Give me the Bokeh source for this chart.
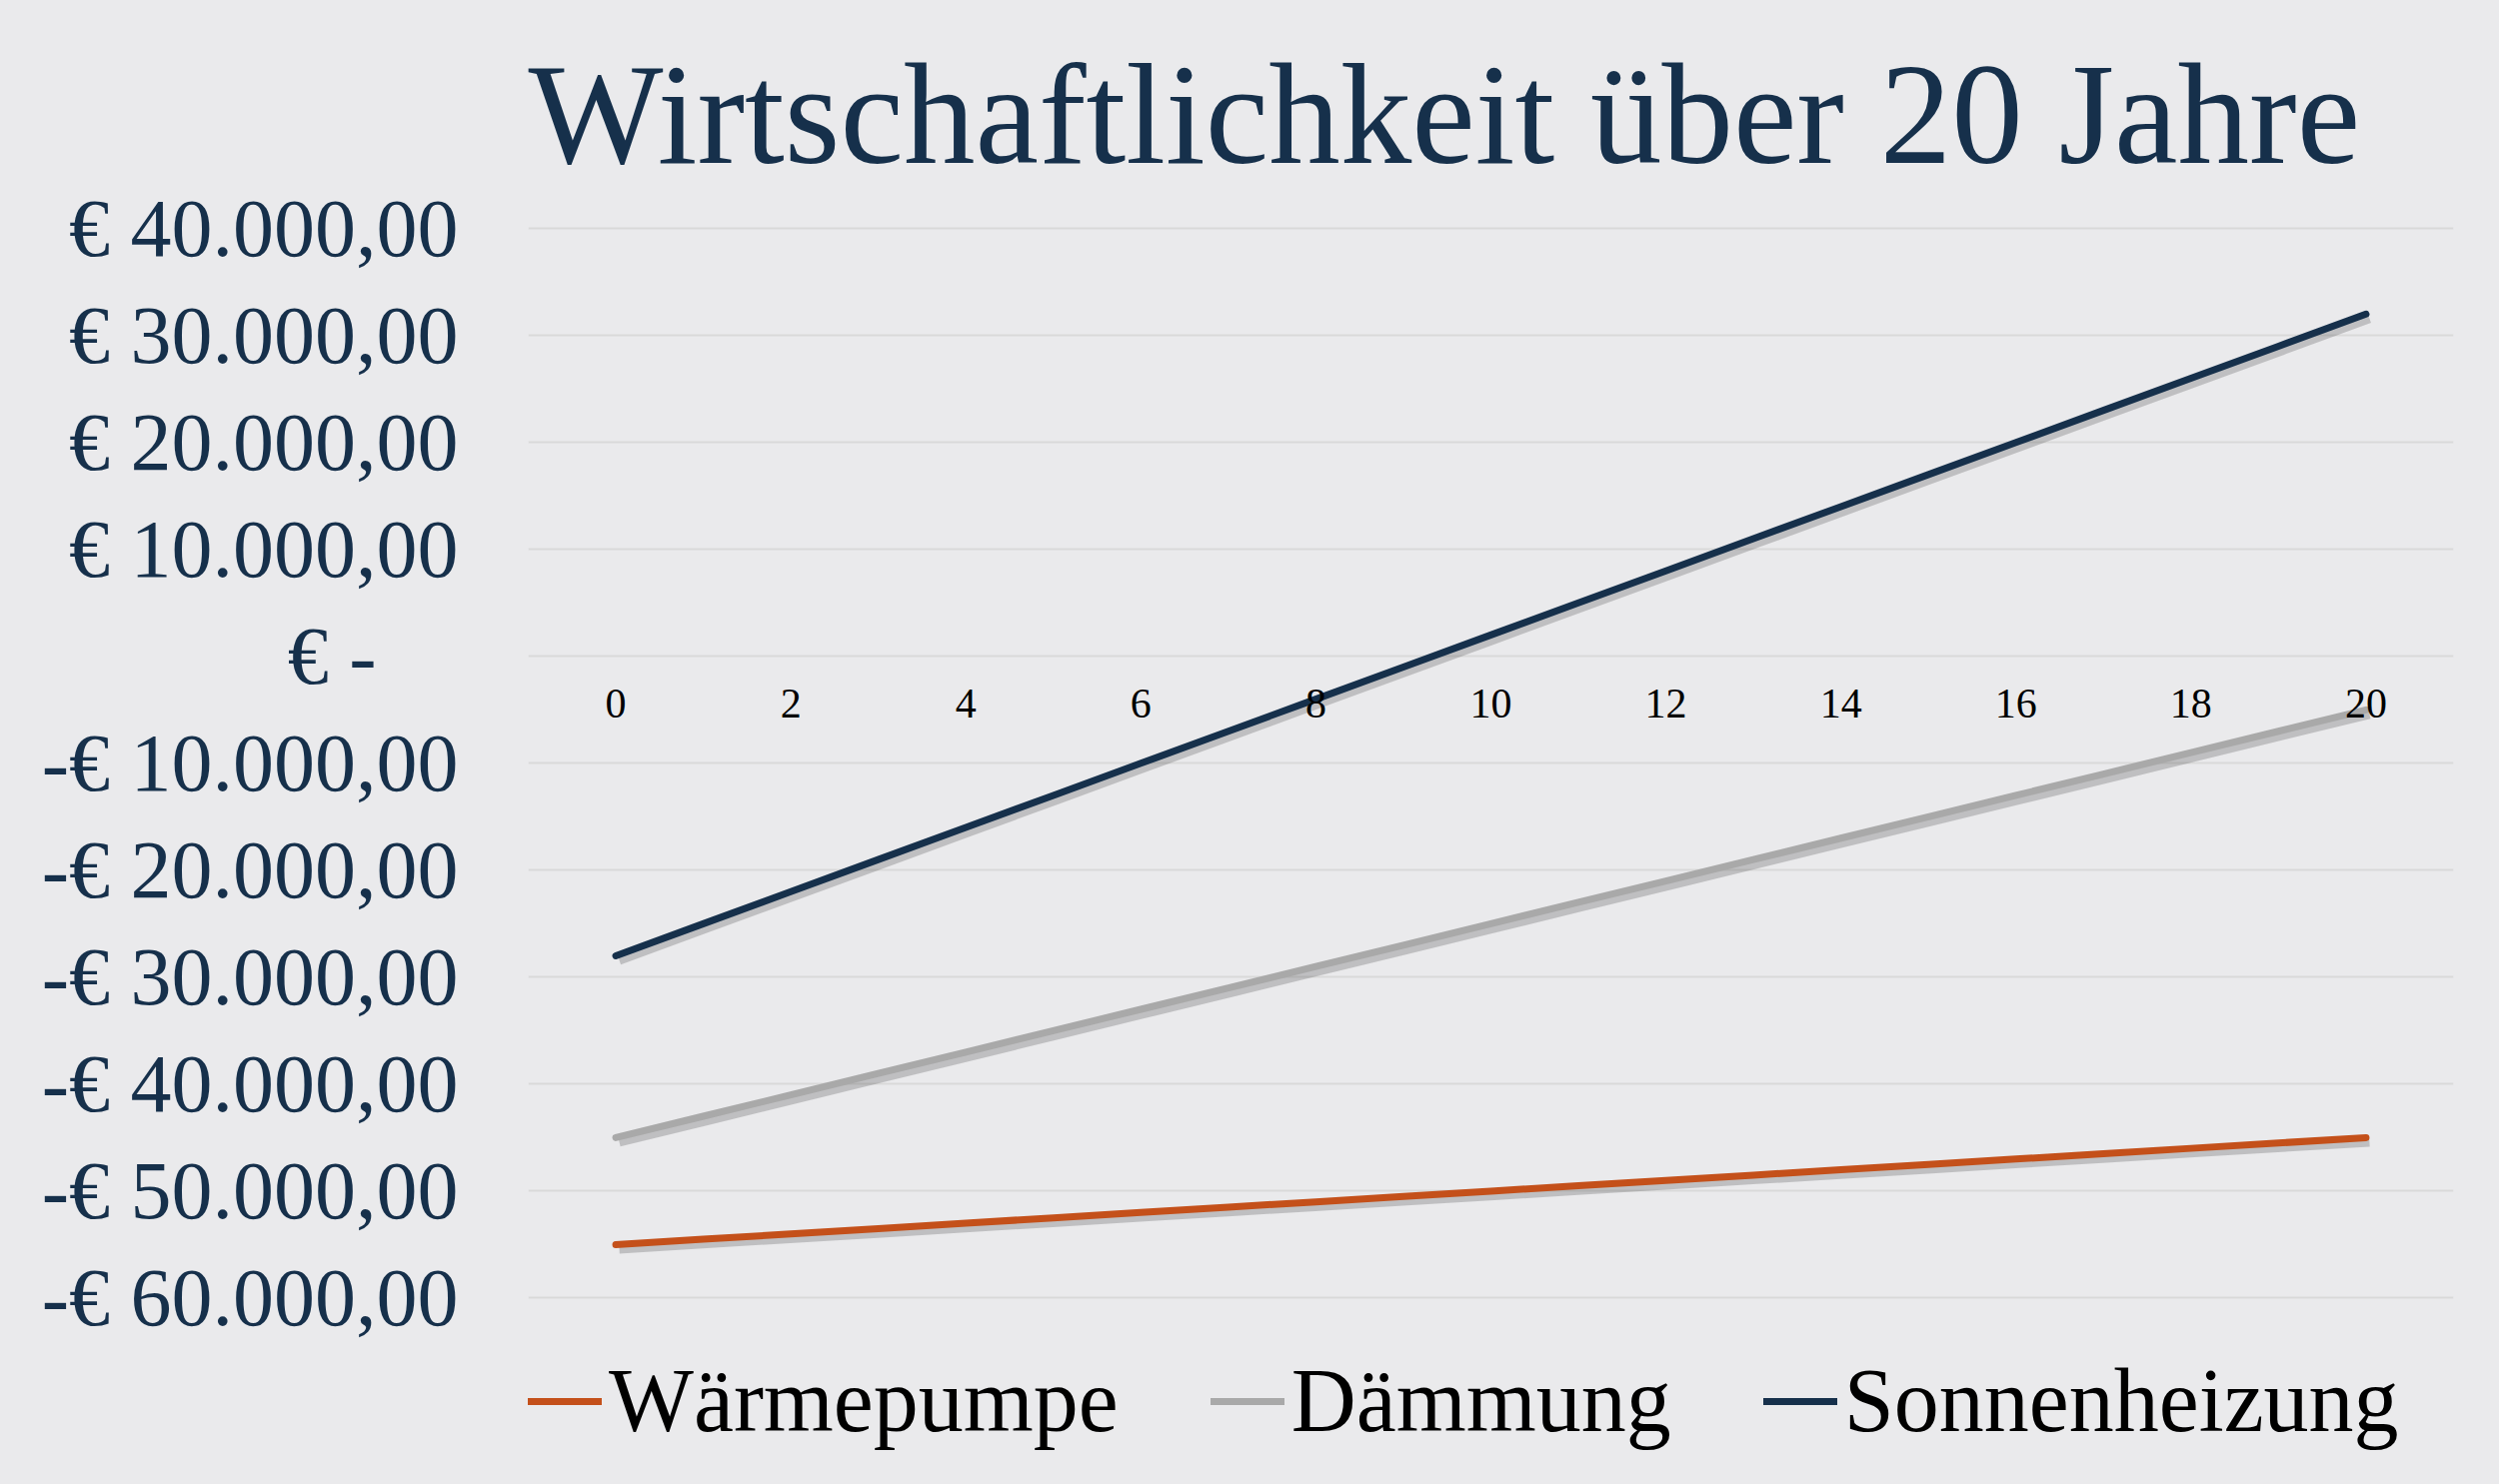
from bokeh.plotting import figure
from bokeh.models import FixedTicker, Legend, LegendItem
from bokeh.embed import file_html
from bokeh.resources import INLINE

years = list(range(0, 21))
waermepumpe = [-55000, -54500, -54000, -53500, -53000, -52500, -52000, -51500, -51000, -50500,
               -50000, -49500, -49000, -48500, -48000, -47500, -47000, -46500, -46000, -45500, -45000]
daemmung = [-45000, -43000, -41000, -39000, -37000, -35000, -33000, -31000, -29000, -27000,
            -25000, -23000, -21000, -19000, -17000, -15000, -13000, -11000, -9000, -7000, -5000]
sonnenheizung = [-28000, -25000, -22000, -19000, -16000, -13000, -10000, -7000, -4000, -1000,
                 2000, 5000, 8000, 11000, 14000, 17000, 20000, 23000, 26000, 29000, 32000]
series_names = ["Wärmepumpe", "Dämmung", "Sonnenheizung"]
series_colors = ["#C4501A", "#A9A9A9", "#16304B"]

y_ticks = [40000, 30000, 20000, 10000, 0, -10000, -20000, -30000, -40000, -50000, -60000]
y_labels = ["€ 40.000,00", "€ 30.000,00", "€ 20.000,00", "€ 10.000,00", "€ -\u00a0\u00a0\u00a0\u00a0",
            "-€ 10.000,00", "-€ 20.000,00", "-€ 30.000,00", "-€ 40.000,00", "-€ 50.000,00", "-€ 60.000,00"]
x_ticks = [0, 2, 4, 6, 8, 10, 12, 14, 16, 18, 20]

BG = "#EAEAEC"
SERIF = "Liberation Serif"

# frame extends below the -60k line to hold the legend (no grid there)
p = figure(width=2484, height=1469, output_backend="svg", toolbar_location=None,
           x_range=(-1, 21), y_range=(-75000, 40300),
           min_border_left=528, min_border_right=30, min_border_top=225, min_border_bottom=10,
           background_fill_color=BG, border_fill_color=BG, outline_line_color=None)

p.title.text = "Wirtschaftlichkeit über 20 Jahre"
p.title.text_font = SERIF
p.title.text_font_size = "143px"
p.title.text_font_style = "normal"
p.title.text_color = "#16304B"
p.title.align = "left"
p.title.vertical_align = "top"
p.title.standoff = 60

# grid
p.xgrid.visible = False
p.ygrid.ticker = FixedTicker(ticks=y_ticks)
p.ygrid.grid_line_color = "#D9D9D9"
p.ygrid.grid_line_width = 2

# y axis
p.yaxis.ticker = FixedTicker(ticks=y_ticks)
p.yaxis.major_label_overrides = {t: l for t, l in zip(y_ticks, y_labels)}
p.yaxis.axis_line_color = None
p.yaxis.major_tick_line_color = None
p.yaxis.minor_tick_line_color = None
p.yaxis.major_label_text_font = SERIF
p.yaxis.major_label_text_font_size = "82px"
p.yaxis.major_label_text_color = "#16304B"
p.yaxis.major_label_standoff = 64

# x axis at zero
p.xaxis.fixed_location = 0
p.xaxis.ticker = FixedTicker(ticks=x_ticks)
p.xaxis.axis_line_color = None
p.xaxis.major_tick_line_color = None
p.xaxis.minor_tick_line_color = None
p.xaxis.major_label_text_font = SERIF
p.xaxis.major_label_text_font_size = "42px"
p.xaxis.major_label_text_color = "#000000"
p.xaxis.major_label_standoff = 27

# shadows and lines
dx = 0.04
dy = -420
items = []
for vals, name, col in zip([waermepumpe, daemmung, sonnenheizung], series_names, series_colors):
    p.line([x + dx for x in years], [v + dy for v in vals], line_color="#000000",
           line_alpha=0.18, line_width=9)
    r = p.line(years, vals, line_color=col, line_width=7, line_cap="round")
    items.append(LegendItem(label=name, renderers=[r]))

legend = Legend(items=items, orientation="horizontal", location=(0, 6),
                label_text_font=SERIF, label_text_font_size="90px", label_text_color="#000000",
                glyph_width=74, glyph_height=40, label_standoff=7, spacing=92,
                padding=0, margin=0, border_line_color=None, background_fill_alpha=0)
p.add_layout(legend)

html = file_html(p, INLINE)
html = html.replace("</head>", "<style>html, body { background-color: #EAEAEC; }</style>\n</head>", 1)
open("out.html", "w").write(html)
